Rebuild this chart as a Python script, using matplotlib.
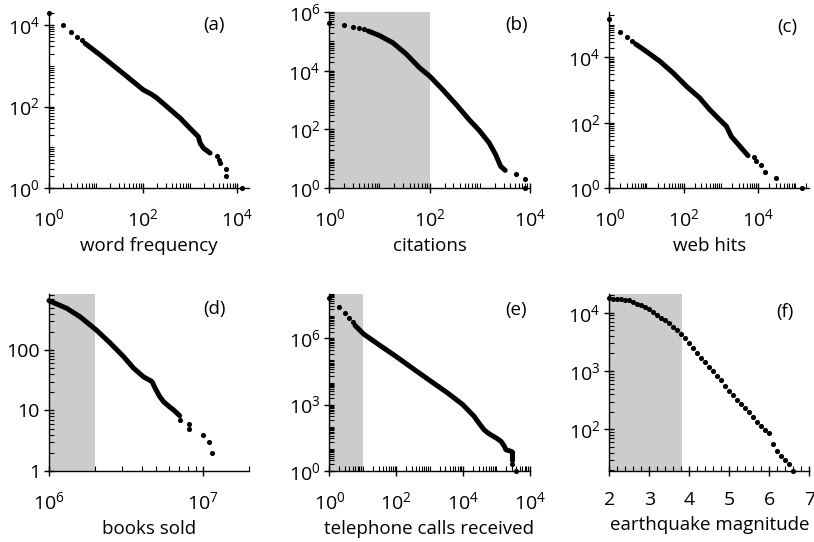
import numpy as np
import matplotlib
matplotlib.use('Agg')
import matplotlib.pyplot as plt
from matplotlib.ticker import FixedLocator, LogLocator, MultipleLocator, NullFormatter, FixedFormatter

FONT = 'Open Sans'
plt.rcParams['font.family'] = [FONT, 'DejaVu Sans']
plt.rcParams['mathtext.fontset'] = 'custom'
plt.rcParams['mathtext.rm'] = FONT
plt.rcParams['mathtext.it'] = FONT
plt.rcParams['mathtext.default'] = 'rm'

# ---------------- data ----------------
# (a) word frequency
a_dense_x = [5.8, 12.1, 27.4, 61.7, 100, 150, 195, 316, 603, 977, 1480, 1620, 1905, 2630]
a_dense_y = [3550, 1860, 870, 407, 257, 200, 162, 100, 52.5, 29.5, 18.2, 12.6, 9.5, 7.2]
a_dots_x = [1, 2, 3, 4, 5, 3630, 3980, 4170, 5750, 5750, 12600]
a_dots_y = [19500, 10000, 6600, 5100, 4200, 6, 5, 4, 3, 2, 1]

# (b) citations
b_dense_x = [6, 10, 18.6, 34.7, 63, 100, 182, 339, 617, 977, 1550, 2090, 2630, 3240]
b_dense_y = [224000, 158000, 89000, 36300, 12600, 6600, 2290, 708, 214, 93, 34.7, 13.8, 5.5, 4]
b_dots_x = [1, 2, 3, 4, 5, 5430, 8130, 8130]
b_dots_y = [436000, 363000, 309000, 275000, 257000, 3, 2, 1]

# (c) web hits
c_dense_x = [5.1, 10, 22.9, 52.5, 120, 269, 501, 933, 1410, 1905, 3240, 5370]
c_dense_y = [25700, 15100, 7590, 3310, 1290, 575, 251, 123, 77.6, 38, 19, 9.8]
c_dots_x = [1, 2, 3, 4, 7760, 8710, 11750, 15100, 29500, 151000]
c_dots_y = [148000, 61700, 41700, 30900, 8.7, 6.6, 4.9, 3, 2, 1]

# (d) books sold
d_dense_x = [1.0e6, 1.30e6, 1.59e6, 2.03e6, 2.51e6, 3.05e6, 3.55e6, 4.12e6, 4.68e6,
             4.9e6, 5.25e6, 5.56e6, 6.03e6, 6.46e6, 7.08e6]
d_dense_y = [653, 490, 355, 214, 129, 78, 50, 36, 30, 23.4, 17, 14, 11.7, 10.2, 8.2]
d_dots_x = [7.08e6, 8.13e6, 8.13e6, 1.0e7, 1.1e7, 1.15e7]
d_dots_y = [7, 6, 5, 4, 3, 2]

# (e) telephone calls received
e_dense_x = [5.9, 10.5, 33, 100, 339, 1070, 3390, 9770, 21400, 32000, 42700, 55000,
             67600, 100000, 138000, 170000, 195000, 288000]
e_dense_y = [3.8e6, 1.58e6, 4.7e5, 1.5e5, 4.0e4, 1.17e4, 3470, 1020, 302, 130, 74, 54,
             43.6, 31, 21.9, 14, 9.1, 7.6]
e_dots_x = [1, 2, 3, 4, 5, 288000, 288000, 288000, 288000, 288000, 288000, 389000]
e_dots_y = [6.3e7, 2.6e7, 1.38e7, 8.1e6, 5.4e6, 7, 6, 5, 4, 3, 2, 1]

# (f) earthquake magnitude
f_x = [2.0, 2.1, 2.2, 2.3, 2.4, 2.5, 2.6, 2.7, 2.8, 2.9, 3.0, 3.1, 3.2, 3.3, 3.4, 3.5,
       3.6, 3.7, 3.8, 3.9, 4.0, 4.1, 4.2, 4.3, 4.4, 4.5, 4.6, 4.7, 4.8, 4.9, 5.0, 5.1,
       5.2, 5.3, 5.4, 5.5, 5.6, 5.7, 5.8, 5.9, 6.0, 6.1, 6.2, 6.3, 6.4, 6.5, 6.6]
f_y = [17620, 17140, 16940, 16940, 16710, 16260, 15140, 14260, 13370, 12500, 11400,
       10140, 9120, 8200, 7400, 6560, 5750, 4980, 4260, 3630, 3020, 2510, 2040, 1690,
       1410, 1190, 986, 832, 692, 550, 447, 389, 316, 269, 234, 200, 166, 135, 115, 98,
       87, 55, 42, 35, 30, 25, 19.5]

xlabels = ['word frequency', 'citations', 'web hits',
           'books sold', 'telephone calls received', 'earthquake magnitude']
panel_tags = ['(a)', '(b)', '(c)', '(d)', '(e)', '(f)']

# ---------------- figure ----------------
W, H = 814, 542
fig = plt.figure(figsize=(W / 100, H / 100), dpi=100)

def rect(l, r, t, b):
    return [l / W, 1 - b / H, (r - l) / W, (b - t) / H]

FS = 13.5
TFS = 14
SHADE = '#cccccc'

def style(ax):
    for s in ['top', 'right']:
        ax.spines[s].set_visible(False)
    for s in ['left', 'bottom']:
        ax.spines[s].set_linewidth(1.0)
    ax.tick_params(which='major', direction='inout', length=7, width=1.0, labelsize=TFS)
    ax.tick_params(which='minor', direction='in', length=3.5, width=0.8)
    ax.tick_params(axis='x', which='major', pad=11)
    ax.tick_params(axis='y', which='major', pad=3)

def draw(ax, dx, dy, px, py):
    if dx is not None:
        ax.plot(dx, dy, '-', color='black', lw=3.6, solid_capstyle='round',
                solid_joinstyle='round', clip_on=False, zorder=3)
    ax.plot(px, py, 'o', color='black', ms=3.7, mec='none', clip_on=False, zorder=3)

def logticks(ax, axis, ticks, labels):
    a = ax.xaxis if axis == 'x' else ax.yaxis
    a.set_major_locator(FixedLocator(ticks))
    a.set_major_formatter(FixedFormatter(labels))
    a.set_minor_locator(LogLocator(base=10, subs=np.arange(1, 10), numticks=100))
    a.set_minor_formatter(NullFormatter())

def tag(ax, t, x, y):
    ax.text(x, y, t, transform=ax.transAxes, ha='center', va='center', fontsize=FS)

def xl(ax, t):
    ax.set_xlabel(t, fontsize=FS, labelpad=5)

# (a)
ax = fig.add_axes(rect(49, 249, 12, 188))
ax.set_xscale('log'); ax.set_yscale('log')
ax.set_xlim(1, 10 ** 4.246); ax.set_ylim(1, 10 ** 4.32)
draw(ax, a_dense_x, a_dense_y, a_dots_x, a_dots_y)
logticks(ax, 'x', [1, 1e2, 1e4], ['$10^0$', '$10^2$', '$10^4$'])
logticks(ax, 'y', [1, 1e2, 1e4], ['$10^0$', '$10^2$', '$10^4$'])
style(ax); xl(ax, xlabels[0])
tag(ax, panel_tags[0], 0.825, 0.926)

# (b)
ax = fig.add_axes(rect(329.3, 529.7, 12, 188))
ax.set_xscale('log'); ax.set_yscale('log')
ax.set_xlim(1, 1e4); ax.set_ylim(1, 1e6)
ax.axvspan(1, 100, color=SHADE, lw=0, zorder=0)
draw(ax, b_dense_x, b_dense_y, b_dots_x, b_dots_y)
logticks(ax, 'x', [1, 1e2, 1e4], ['$10^0$', '$10^2$', '$10^4$'])
logticks(ax, 'y', [1, 1e2, 1e4, 1e6], ['$10^0$', '$10^2$', '$10^4$', '$10^6$'])
style(ax); xl(ax, xlabels[1])
tag(ax, panel_tags[1], 0.935, 0.926)

# (c)
ax = fig.add_axes(rect(609.3, 809, 12, 188))
ax.set_xscale('log'); ax.set_yscale('log')
ax.set_xlim(1, 10 ** 5.37); ax.set_ylim(1, 10 ** 5.39)
draw(ax, c_dense_x, c_dense_y, c_dots_x, c_dots_y)
logticks(ax, 'x', [1, 1e2, 1e4], ['$10^0$', '$10^2$', '$10^4$'])
logticks(ax, 'y', [1, 1e2, 1e4], ['$10^0$', '$10^2$', '$10^4$'])
style(ax); xl(ax, xlabels[2])
tag(ax, panel_tags[2], 0.89, 0.917)

# (d)
ax = fig.add_axes(rect(49, 249, 294, 471))
ax.set_xscale('log'); ax.set_yscale('log')
ax.set_xlim(1e6, 2e7); ax.set_ylim(1, 10 ** 2.925)
ax.axvspan(1e6, 2e6, color=SHADE, lw=0, zorder=0)
draw(ax, d_dense_x, d_dense_y, d_dots_x, d_dots_y)
logticks(ax, 'x', [1e6, 1e7], ['$10^6$', '$10^7$'])
logticks(ax, 'y', [1, 10, 100], ['1', '10', '100'])
style(ax); xl(ax, xlabels[3])
tag(ax, panel_tags[3], 0.826, 0.914)

# (e)
ax = fig.add_axes(rect(329.3, 529.7, 294, 471))
ax.set_xscale('log'); ax.set_yscale('log')
ax.set_xlim(1, 1e6); ax.set_ylim(1, 1e8)
ax.axvspan(1, 10, color=SHADE, lw=0, zorder=0)
draw(ax, e_dense_x, e_dense_y, e_dots_x, e_dots_y)
logticks(ax, 'x', [1, 1e2, 1e4, 1e6], ['$10^0$', '$10^2$', '$10^4$', '$10^4$'])
logticks(ax, 'y', [1, 1e3, 1e6], ['$10^0$', '$10^3$', '$10^6$'])
style(ax); xl(ax, xlabels[4])
tag(ax, panel_tags[4], 0.93, 0.91)

# (f)
ax = fig.add_axes(rect(609.3, 809.3, 294, 471))
ax.set_yscale('log')
ax.set_xlim(2, 7); ax.set_ylim(10 ** 1.286, 10 ** 4.32)
ax.axvspan(2, 3.82, color=SHADE, lw=0, zorder=0)
draw(ax, None, None, f_x, f_y)
ax.xaxis.set_major_locator(MultipleLocator(1))
ax.xaxis.set_minor_locator(MultipleLocator(0.2))
logticks(ax, 'y', [1e2, 1e3, 1e4], ['$10^2$', '$10^3$', '$10^4$'])
style(ax); xl(ax, xlabels[5])
tag(ax, panel_tags[5], 0.878, 0.90)

fig.savefig('out.png', dpi=100)
